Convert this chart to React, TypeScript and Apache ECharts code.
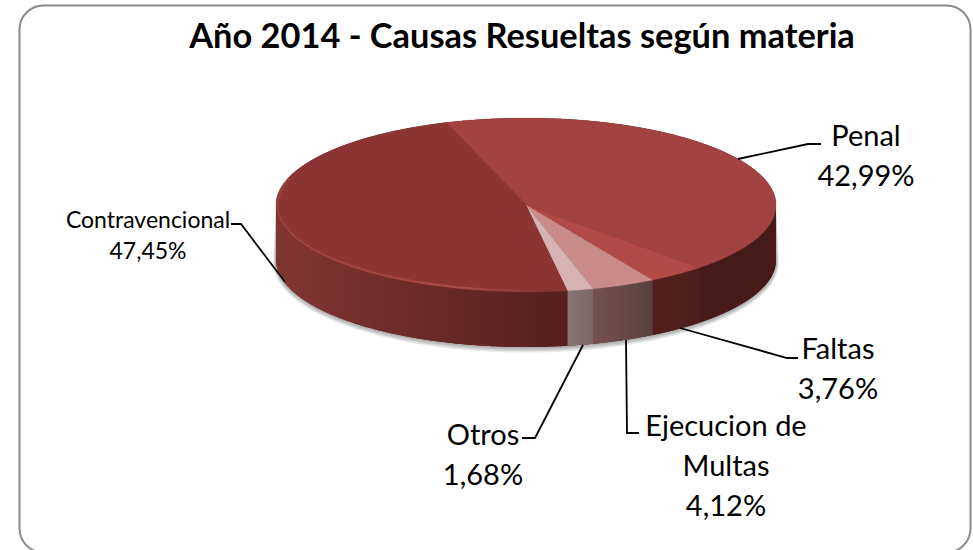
import React, { useEffect, useRef } from "react";
import * as echarts from "echarts";

const titleText = "Año 2014 - Causas Resueltas según materia";
const categories = ["Penal", "Faltas", "Ejecucion de\nMultas", "Otros", "Contravencional"];
const shares = [42.99, 3.76, 4.12, 1.68, 47.45];
const topColors = ["#a04341", "#b04a47", "#c98c8b", "#d7b3b3", "#8a3533"];
const sideStops = [
  ["#451a18", "#451a18"],
  ["#521f1e", "#4d1d1c"],
  ["#75524f", "#56403f"],
  ["#877474", "#7a6868"],
  ["#813533", "#55201f"],
];
const labelCenters = [
  [866, 154],
  [838, 367],
  [726, 464],
  [483, 453],
  [148, 234],
];
const labelSizes = [29, 29, 29, 29, 23];
const leaders = [
  [[738, 159], [808, 144], [821, 144]],
  [[680, 328], [787, 358], [798, 358]],
  [[626, 340], [627, 433], [639, 433]],
  [[583, 345], [535, 438], [522, 438]],
  [[285, 282], [241, 224], [231, 224]],
];
const shadowSteps = [4, 3, 2, 1];

const CX = 526, CY = 205, RX = 250, RY = 87, DEPTH = 55, START = -18.7;
const FONT = "Lato, 'Open Sans', sans-serif";

const total = shares.reduce((a, b) => a + b, 0);
const pt = (deg: number, dy = 0, inset = 0): number[] => {
  const r = (deg * Math.PI) / 180;
  return [CX + (RX - inset) * Math.sin(r), CY - (RY - inset) * Math.cos(r) + dy];
};
const arc = (a: number, b: number, dy = 0, inset = 0): number[][] => {
  const n = Math.max(2, Math.ceil(Math.abs(b - a) * 2));
  const out: number[][] = [];
  for (let i = 0; i <= n; i++) out.push(pt(a + ((b - a) * i) / n, dy, inset));
  return out;
};
const sliceAngles = (idx: number) => {
  let before = 0;
  for (let i = 0; i < idx; i++) before += shares[i];
  return [START + (before / total) * 360, START + ((before + shares[idx]) / total) * 360];
};
const fmt = (v: number) => v.toFixed(2).replace(".", ",") + "%";

const renderBase = () => ({
  type: "group",
  children: [
    ...shadowSteps.map((k) => ({
      type: "polygon",
      shape: { points: [...arc(90, 270, DEPTH + k * 0.7, -k * 0.7), ...arc(270, 450, 0)] },
      style: { fill: "rgba(0,0,0,0.09)" },
    })),
    {
      type: "polygon",
      shape: { points: [...arc(90, 270, DEPTH), ...arc(270, 450, 0)] },
      style: { fill: "#5a2422" },
    },
  ],
});

const renderSlice = (params: any, api: any) => {
  const i = params.dataIndex;
  const [a0, a1] = sliceAngles(i);
  const children: any[] = [];
  const s0 = Math.max(a0, 90), s1 = Math.min(a1, 270);
  if (s1 > s0) {
    const xa = pt(s1)[0], xb = pt(s0)[0];
    children.push({
      type: "polygon",
      shape: { points: [...arc(s0, s1, 0), ...arc(s1, s0, DEPTH)] },
      style: {
        fill: new echarts.graphic.LinearGradient(xa, 0, xb, 0, [
          { offset: 0, color: sideStops[i][0] },
          { offset: 1, color: sideStops[i][1] },
        ], true),
      },
    });
  }
  children.push({
    type: "polygon",
    shape: { points: [[CX, CY], ...arc(a0, a1)] },
    style: { fill: topColors[i], stroke: topColors[i], lineWidth: 0.3 },
  });
  return { type: "group", children };
};

const renderRim = () => ({
  type: "polyline",
  shape: { points: arc(178, 288, 0, 1.5) },
  style: {
    fill: "none",
    lineWidth: 2,
    stroke: new echarts.graphic.LinearGradient(276, 0, 545, 0, [
      { offset: 0, color: "rgba(170,75,70,0.5)" },
      { offset: 0.7, color: "rgba(190,90,85,0.6)" },
      { offset: 1, color: "rgba(190,90,85,0)" },
    ], true),
  },
});

const renderLabel = (params: any, api: any) => {
  const i = params.dataIndex;
  const size = labelSizes[i];
  return {
    type: "group",
    children: [
      {
        type: "polyline",
        shape: { points: leaders[i] },
        style: { fill: "none", stroke: "#000", lineWidth: 1.8 },
      },
      {
        type: "text",
        x: labelCenters[i][0],
        y: labelCenters[i][1],
        style: {
          text: `${categories[i]}\n${fmt(api.value(0))}`,
          font: `${size}px ${FONT}`,
          fill: "#000",
          align: "center",
          verticalAlign: "middle",
          lineHeight: size === 23 ? 31 : 40,
        },
      },
    ],
  };
};

export default function App() {
  const ref = useRef<HTMLDivElement>(null);
  useEffect(() => {
    const chart = echarts.init(ref.current!, null, { renderer: "svg" });
    const data = shares.map((v, i) => ({ name: categories[i], value: [v] }));
    chart.setOption({
      animation: false,
      backgroundColor: "#fff",
      title: {
        text: titleText,
        left: 517,
        top: 12,
        textAlign: "center",
        textStyle: { fontFamily: FONT, fontWeight: "bold", fontSize: 34.4, color: "#000" },
      },
      graphic: [
        {
          type: "rect",
          silent: true,
          shape: { x: 19.5, y: 5.5, width: 951, height: 547, r: 24 },
          style: { fill: "none", stroke: "#8c8c8c", lineWidth: 2 },
          z: 0,
        },
      ],
      series: [
        { type: "custom", coordinateSystem: "none", data: [total], renderItem: renderBase, z: 2, silent: true },
        { type: "custom", coordinateSystem: "none", data, renderItem: renderSlice, z: 3, silent: true },
        { type: "custom", coordinateSystem: "none", data: [total], renderItem: renderRim, z: 4, silent: true },
        { type: "custom", coordinateSystem: "none", data, renderItem: renderLabel, z: 5, silent: true },
      ],
    });
    return () => chart.dispose();
  }, []);
  return <div ref={ref} style={{ position: "absolute", left: 0, top: 0, width: 973, height: 550 }} />;
}
